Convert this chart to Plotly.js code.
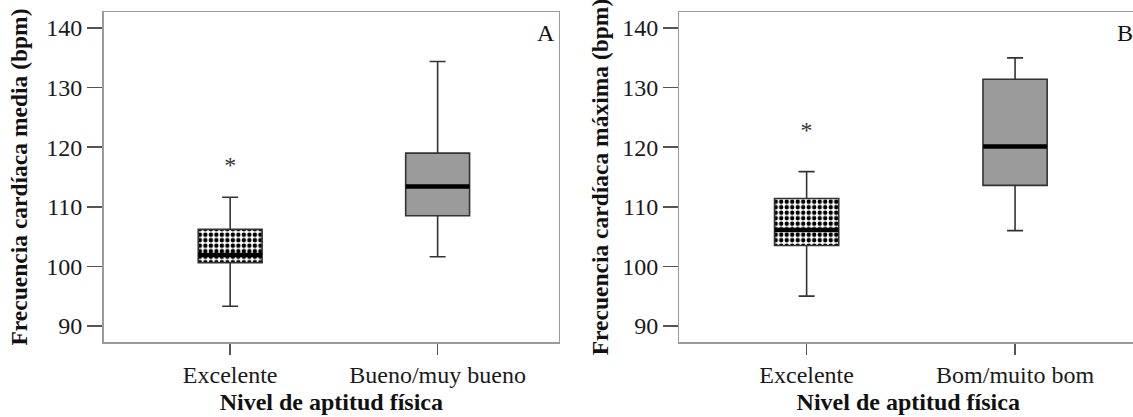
<!DOCTYPE html>
<html>
<head>
<meta charset="utf-8">
<script src="https://cdn.plot.ly/plotly-3.0.1.min.js"></script>
<style>
html,body{margin:0;padding:0;overflow:hidden;background:#fff;}
#chart{width:1140px;height:417px;}
</style>
</head>
<body>
<div id="chart"></div>
<script>
// Panel A: Frecuencia cardíaca media
const catsA = ['Excelente', 'Bueno/muy bueno'];
const lowerA = [93.3, 101.6];
const q1A = [100.6, 108.5];
const medA = [101.9, 113.4];
const q3A = [106.2, 119.0];
const upperA = [111.6, 134.4];
const outCatA = ['Excelente'];
const outValA = [116.6];

// Panel B: Frecuencia cardíaca máxima
const catsB = ['Excelente', 'Bom/muito bom'];
const lowerB = [95.0, 106.0];
const q1B = [103.5, 113.6];
const medB = [106.1, 120.1];
const q3B = [111.4, 131.4];
const upperB = [115.9, 135.0];
const outCatB = ['Excelente'];
const outValB = [122.5];

const yTicks = [90, 100, 110, 120, 130, 140];

const FONT = 'Liberation Serif';
const BOXW = 0.308;

function panelTraces(cats, lower, q1, med, q3, upper, outCat, outVal, xa, ya) {
  return [
    {
      type: 'bar', x: [cats[0]], base: [q1[0]], y: [q3[0] - q1[0]],
      width: BOXW, xaxis: xa, yaxis: ya, hoverinfo: 'skip',
      marker: {
        color: '#ffffff', line: {width: 0},
        pattern: {shape: '.', fgcolor: '#000000', bgcolor: '#ffffff', size: 5.5, solidity: 0.5}
      },
      showlegend: false
    },
    {
      type: 'bar', x: [cats[1]], base: [q1[1]], y: [q3[1] - q1[1]],
      width: BOXW, xaxis: xa, yaxis: ya, hoverinfo: 'skip',
      marker: {color: '#9b9b9b', line: {width: 0}},
      showlegend: false
    },
    {
      type: 'box', x: cats, q1: q1, median: med, q3: q3,
      lowerfence: lower, upperfence: upper,
      width: BOXW, whiskerwidth: 0.25, boxpoints: false,
      fillcolor: 'rgba(0,0,0,0)', line: {color: '#333333', width: 1.6},
      xaxis: xa, yaxis: ya, showlegend: false
    },
    {
      type: 'scatter', mode: 'markers', x: cats, y: med, xaxis: xa, yaxis: ya,
      marker: {symbol: 'line-ew-open', size: 45.5, color: '#000000', line: {color: '#000000', width: 4.5}},
      showlegend: false, hoverinfo: 'skip'
    },
    {
      type: 'scatter', mode: 'text', x: outCat, y: outVal, xaxis: xa, yaxis: ya,
      text: outCat.map(() => '*'), textposition: 'middle center',
      textfont: {family: FONT, size: 24, color: '#333333'},
      showlegend: false, hoverinfo: 'skip'
    }
  ];
}

const data = [
  ...panelTraces(catsA, lowerA, q1A, medA, q3A, upperA, outCatA, outValA, 'x', 'y'),
  ...panelTraces(catsB, lowerB, q1B, medB, q3B, upperB, outCatB, outValB, 'x2', 'y2')
];

function xAxis(domain, anchor) {
  return {
    domain: domain, anchor: anchor, type: 'category', range: [-0.61, 1.585],
    showline: true, mirror: true, linecolor: '#9a9a9a', linewidth: 1.5,
    ticks: 'outside', ticklen: 11, tickwidth: 1.5, tickcolor: '#555555',
    tickfont: {family: FONT, size: 24, color: '#1a1a1a'},
    showgrid: false, zeroline: false, automargin: false,
    title: {text: 'Nivel de aptitud física', standoff: 6,
      font: {family: FONT, size: 24, color: '#111111', weight: 'bold'}}
  };
}
function yAxis(anchor, title, standoff) {
  return {
    domain: [0, 1], anchor: anchor, range: [87.3, 142.7],
    tickvals: yTicks, ticktext: yTicks.map(String),
    showline: true, mirror: true, linecolor: '#9a9a9a', linewidth: 1.5,
    ticks: 'outside', ticklen: 15, tickwidth: 1.5, tickcolor: '#555555',
    tickfont: {family: FONT, size: 24, color: '#1a1a1a'},
    showgrid: false, zeroline: false, automargin: false,
    title: {text: title, standoff: standoff,
      font: {family: FONT, size: 23.5, color: '#111111', weight: 'bold'}}
  };
}

const layout = {
  width: 1140, height: 417,
  margin: {l: 100, r: 3, t: 12, b: 75},
  paper_bgcolor: '#ffffff', plot_bgcolor: '#ffffff',
  showlegend: false, bargap: 0, barmode: 'overlay',
  font: {family: FONT, size: 24},
  xaxis: xAxis([0.0035, 0.4426], 'y'),
  yaxis: yAxis('x', 'Frecuencia cardíaca media (bpm)', 12),
  xaxis2: xAxis([0.5588, 1.0], 'y2'),
  yaxis2: yAxis('x2', 'Frecuencia cardíaca máxima (bpm)', 7),
  annotations: [
    {text: 'A', xref: 'x domain', yref: 'y domain', x: 1, y: 1, xanchor: 'right', yanchor: 'top',
     xshift: -2, yshift: -6, showarrow: false, font: {family: FONT, size: 24, color: '#111111'}},
    {text: 'B', xref: 'x2 domain', yref: 'y2 domain', x: 1, y: 1, xanchor: 'right', yanchor: 'top',
     xshift: -2, yshift: -6, showarrow: false, font: {family: FONT, size: 24, color: '#111111'}}
  ]
};

Plotly.newPlot('chart', data, layout, {staticPlot: true, displayModeBar: false});
</script>
</body>
</html>
